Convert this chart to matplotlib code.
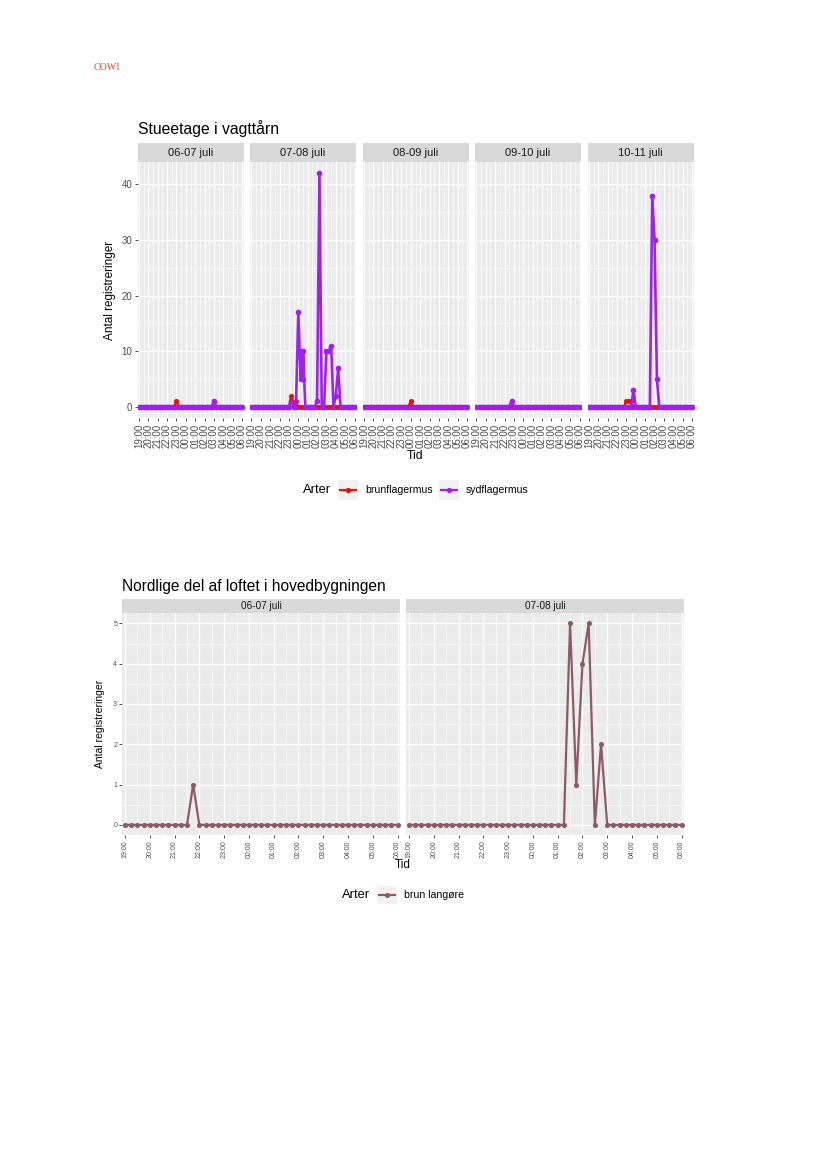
import numpy as np
import matplotlib
matplotlib.use("Agg")
import matplotlib.pyplot as plt
from matplotlib.ticker import FixedLocator

plt.rcParams['font.family'] = ['Liberation Sans', 'DejaVu Sans']

# counts per 15 minutes, 19:00 -> 06:00 (45 slots); a tuple = two rows at the same time
hour_labels = ["19:00", "20:00", "21:00", "22:00", "23:00", "00:00",
               "01:00", "02:00", "03:00", "04:00", "05:00", "06:00"]

top_title = "Stueetage i vagttårn"
top_nights = ["06-07 juli", "07-08 juli", "08-09 juli", "09-10 juli", "10-11 juli"]
top_species = ["brunflagermus", "sydflagermus"]
top_colors = ["#F00D0D", "#A020F0"]

brun_0607 = [0, 0, 0, 0, 0, 0, 0, 0, 0, 0, 0, 0, 0, 0, 0, 0, 1, 0, 0, 0,
             0, 0, 0, 0, 0, 0, 0, 0, 0, 0, 0, 0, 0, 0, 0, 0, 0, 0, 0, 0, 0, 0, 0, 0, 0]
syd_0607 = [0, 0, 0, 0, 0, 0, 0, 0, 0, 0, 0, 0, 0, 0, 0, 0, 0, 0, 0, 0,
            0, 0, 0, 0, 0, 0, 0, 0, 0, 0, 0, 0, 1, 0, 0, 0, 0, 0, 0, 0, 0, 0, 0, 0, 0]
brun_0708 = [0, 0, 0, 0, 0, 0, 0, 0, 0, 0, 0, 0, 0, 0, 0, 0, 0, 2, 0, 1,
             0, 0, 0, 0, 0, 0, 0, 0, 0, 0, 0, 0, 0, 0, 0, 0, 0, 0, 0, 0, 0, 0, 0, 0, 0]
syd_0708 = [0, 0, 0, 0, 0, 0, 0, 0, 0, 0, 0, 0, 0, 0, 0, 0, 0, 1, 0, 0,
            17, (5, 10), (5, 10), 0, 0, 0, 0, 0, 1, 42, 0, 0, 10, 10, 11, 0, 2, 7, 0, 0, 0, 0, 0, 0, 0]
brun_0809 = [0, 0, 0, 0, 0, 0, 0, 0, 0, 0, 0, 0, 0, 0, 0, 0, 0, 0, 0, 0,
             1, 0, 0, 0, 0, 0, 0, 0, 0, 0, 0, 0, 0, 0, 0, 0, 0, 0, 0, 0, 0, 0, 0, 0, 0]
syd_0809 = [0, 0, 0, 0, 0, 0, 0, 0, 0, 0, 0, 0, 0, 0, 0, 0, 0, 0, 0, 0,
            0, 0, 0, 0, 0, 0, 0, 0, 0, 0, 0, 0, 0, 0, 0, 0, 0, 0, 0, 0, 0, 0, 0, 0, 0]
brun_0910 = [0, 0, 0, 0, 0, 0, 0, 0, 0, 0, 0, 0, 0, 0, 0, 0, 0, 0, 0, 0,
             0, 0, 0, 0, 0, 0, 0, 0, 0, 0, 0, 0, 0, 0, 0, 0, 0, 0, 0, 0, 0, 0, 0, 0, 0]
syd_0910 = [0, 0, 0, 0, 0, 0, 0, 0, 0, 0, 0, 0, 0, 0, 0, 1, 0, 0, 0, 0,
            0, 0, 0, 0, 0, 0, 0, 0, 0, 0, 0, 0, 0, 0, 0, 0, 0, 0, 0, 0, 0, 0, 0, 0, 0]
brun_1011 = [0, 0, 0, 0, 0, 0, 0, 0, 0, 0, 0, 0, 0, 0, 0, 0, 1, 1, 1, 0,
             0, 0, 0, 0, 0, 0, 0, 0, 0, 0, 0, 0, 0, 0, 0, 0, 0, 0, 0, 0, 0, 0, 0, 0, 0]
syd_1011 = [0, 0, 0, 0, 0, 0, 0, 0, 0, 0, 0, 0, 0, 0, 0, 0, 0, 0, 0, 3,
            0, 0, 0, 0, 0, 0, 0, 38, 30, 5, 0, 0, 0, 0, 0, 0, 0, 0, 0, 0, 0, 0, 0, 0, 0]

bot_title = "Nordlige del af loftet i hovedbygningen"
bot_nights = ["06-07 juli", "07-08 juli"]
bot_species = ["brun langøre"]
bot_color = "#8C5B64"
langore_0607 = [0, 0, 0, 0, 0, 0, 0, 0, 0, 0, 0, 1, 0, 0, 0, 0, 0, 0, 0, 0,
                0, 0, 0, 0, 0, 0, 0, 0, 0, 0, 0, 0, 0, 0, 0, 0, 0, 0, 0, 0, 0, 0, 0, 0, 0]
langore_0708 = [0, 0, 0, 0, 0, 0, 0, 0, 0, 0, 0, 0, 0, 0, 0, 0, 0, 0, 0, 0,
                0, 0, 0, 0, 0, 0, 5, 1, 4, 5, 0, 2, 0, 0, 0, 0, 0, 0, 0, 0, 0, 0, 0, 0, 0]

top_data = [(brun_0607, syd_0607), (brun_0708, syd_0708), (brun_0809, syd_0809),
            (brun_0910, syd_0910), (brun_1011, syd_1011)]
bot_data = [langore_0607, langore_0708]

W, H = 827, 1169
fig = plt.figure(figsize=(W / 100, H / 100), dpi=100)


def box(x0, y0, x1, y1):
    return [x0 / W, 1 - y1 / H, (x1 - x0) / W, (y1 - y0) / H]


def expand(vals):
    # hours after 19:00, duplicates kept in their order
    xs, ys = [], []
    for i, v in enumerate(vals):
        for w in (v if isinstance(v, tuple) else (v,)):
            xs.append(i * 0.25)
            ys.append(w)
    return xs, ys


def style_panel(ax, xpad, ylim, ymajor, yminor, tick_size, tick_font, first):
    ax.set_facecolor('#EBEBEB')
    for s in ax.spines.values():
        s.set_visible(False)
    ax.set_xlim(-xpad, 11 + xpad)
    ax.set_ylim(*ylim)
    ax.xaxis.set_major_locator(FixedLocator(np.arange(12)))
    ax.xaxis.set_minor_locator(FixedLocator(np.arange(0.5, 11, 1)))
    ax.set_xticklabels(hour_labels, rotation=90, fontsize=tick_size, family=tick_font)
    ax.yaxis.set_major_locator(FixedLocator(ymajor))
    ax.yaxis.set_minor_locator(FixedLocator(yminor))
    ax.set_yticklabels([str(v) for v in ymajor], fontsize=tick_size, family=tick_font)
    ax.grid(which='major', color='white', lw=0.9)
    ax.grid(which='minor', color='white', lw=0.45)
    ax.set_axisbelow(True)
    ax.tick_params(which='minor', length=0)
    ax.tick_params(which='major', length=2.2, width=0.6, color='#333333',
                   labelcolor='#4D4D4D', pad=1.5)
    if not first:
        ax.tick_params(axis='y', left=False, labelleft=False)


def strip(x0, y0, x1, y1, text, size):
    sax = fig.add_axes(box(x0, y0, x1, y1))
    sax.set_facecolor('#D9D9D9')
    sax.set_xticks([])
    sax.set_yticks([])
    for s in sax.spines.values():
        s.set_visible(False)
    sax.text(0.5, 0.5, text, ha='center', va='center', fontsize=size,
             color='#1A1A1A', transform=sax.transAxes)


def legend_key(x0, y0, x1, y1, color, lw, ms):
    kax = fig.add_axes(box(x0, y0, x1, y1))
    kax.set_facecolor('#F2F2F2')
    kax.set_xticks([])
    kax.set_yticks([])
    for s in kax.spines.values():
        s.set_visible(False)
    kax.set_xlim(0, 1)
    kax.set_ylim(0, 1)
    kax.plot([0.1, 0.5, 0.9], [0.5, 0.5, 0.5], color=color, lw=lw,
             marker='o', ms=ms, mew=0, markevery=[1])


# COWI logo
fig.text(94 / W, 1 - 70 / H, "COWI", fontsize=7.2, color='#EE4B22',
         family=['Liberation Serif', 'DejaVu Serif'], va='baseline')

# ---------------- top chart ----------------
fig.text(137.5 / W, 1 - 134 / H, top_title, fontsize=11.3, color='black', va='baseline')
pw, gap = 106, 6.5
marker_size = [3.7, 4.1]
line_width = [1.6, 1.9]
for i, (night, series) in enumerate(zip(top_nights, top_data)):
    x0 = 137.5 + i * (pw + gap)
    ax = fig.add_axes(box(x0, 161.7, x0 + pw, 418.3))
    style_panel(ax, 0.15, (-2.1, 44.1), [0, 10, 20, 30, 40], [5, 15, 25, 35],
                7, ['Liberation Sans', 'DejaVu Sans'], i == 0)
    for k, (vals, col) in enumerate(zip(series, top_colors)):
        xs, ys = expand(vals)
        ax.plot(xs, ys, 'o', color=col, ms=marker_size[k], mew=0, zorder=2 + k * 0.1)
    for k, (vals, col) in enumerate(zip(series, top_colors)):
        xs, ys = expand(vals)
        ax.plot(xs, ys, '-', color=col, lw=line_width[k], zorder=3 + k * 0.1)
    strip(x0, 143.3, x0 + pw, 161.7, night, 8)

fig.text(110 / W, 1 - 290 / H, "Antal registreringer", rotation=90, fontsize=8.5,
         ha='center', va='center')
fig.text(415.5 / W, 1 - 456 / H, "Tid", fontsize=8.8, ha='center', va='center')

fig.text(302.5 / W, 1 - 490 / H, "Arter", fontsize=9.3, ha='left', va='center')
legend_key(338, 480, 358, 500, top_colors[0], 1.6, 3.8)
fig.text(365 / W, 1 - 490 / H, top_species[0], fontsize=7.6, ha='left', va='center')
legend_key(439, 480, 459, 500, top_colors[1], 1.6, 3.8)
fig.text(465.5 / W, 1 - 490 / H, top_species[1], fontsize=7.6, ha='left', va='center')

# ---------------- bottom chart ----------------
fig.text(122 / W, 1 - 591 / H, bot_title, fontsize=11.2, color='black', va='baseline')
pw, gap = 278, 6
narrow = ['Liberation Sans Narrow', 'Liberation Sans', 'DejaVu Sans']
for i, (night, vals) in enumerate(zip(bot_nights, bot_data)):
    x0 = 122.3 + i * (pw + gap)
    ax = fig.add_axes(box(x0, 613.3, x0 + pw, 835))
    style_panel(ax, 0.11, (-0.25, 5.25), [0, 1, 2, 3, 4, 5], [0.5, 1.5, 2.5, 3.5, 4.5],
                5, narrow, i == 0)
    xs, ys = expand(vals)
    ax.plot(xs, ys, '-o', color=bot_color, lw=1.6, ms=3.7, mew=0)
    strip(x0, 599.3, x0 + pw, 613.3, night, 7.2)

fig.text(100 / W, 1 - 724 / H, "Antal registreringer", rotation=90, fontsize=7.5,
         ha='center', va='center')
fig.text(403 / W, 1 - 865 / H, "Tid", fontsize=8.5, ha='center', va='center')

fig.text(342 / W, 1 - 895 / H, "Arter", fontsize=9.3, ha='left', va='center')
legend_key(376.5, 886, 397, 904, bot_color, 1.6, 3.6)
fig.text(403.5 / W, 1 - 895 / H, bot_species[0], fontsize=7.6, ha='left', va='center')

fig.savefig("out.png", dpi=100, facecolor='white')
